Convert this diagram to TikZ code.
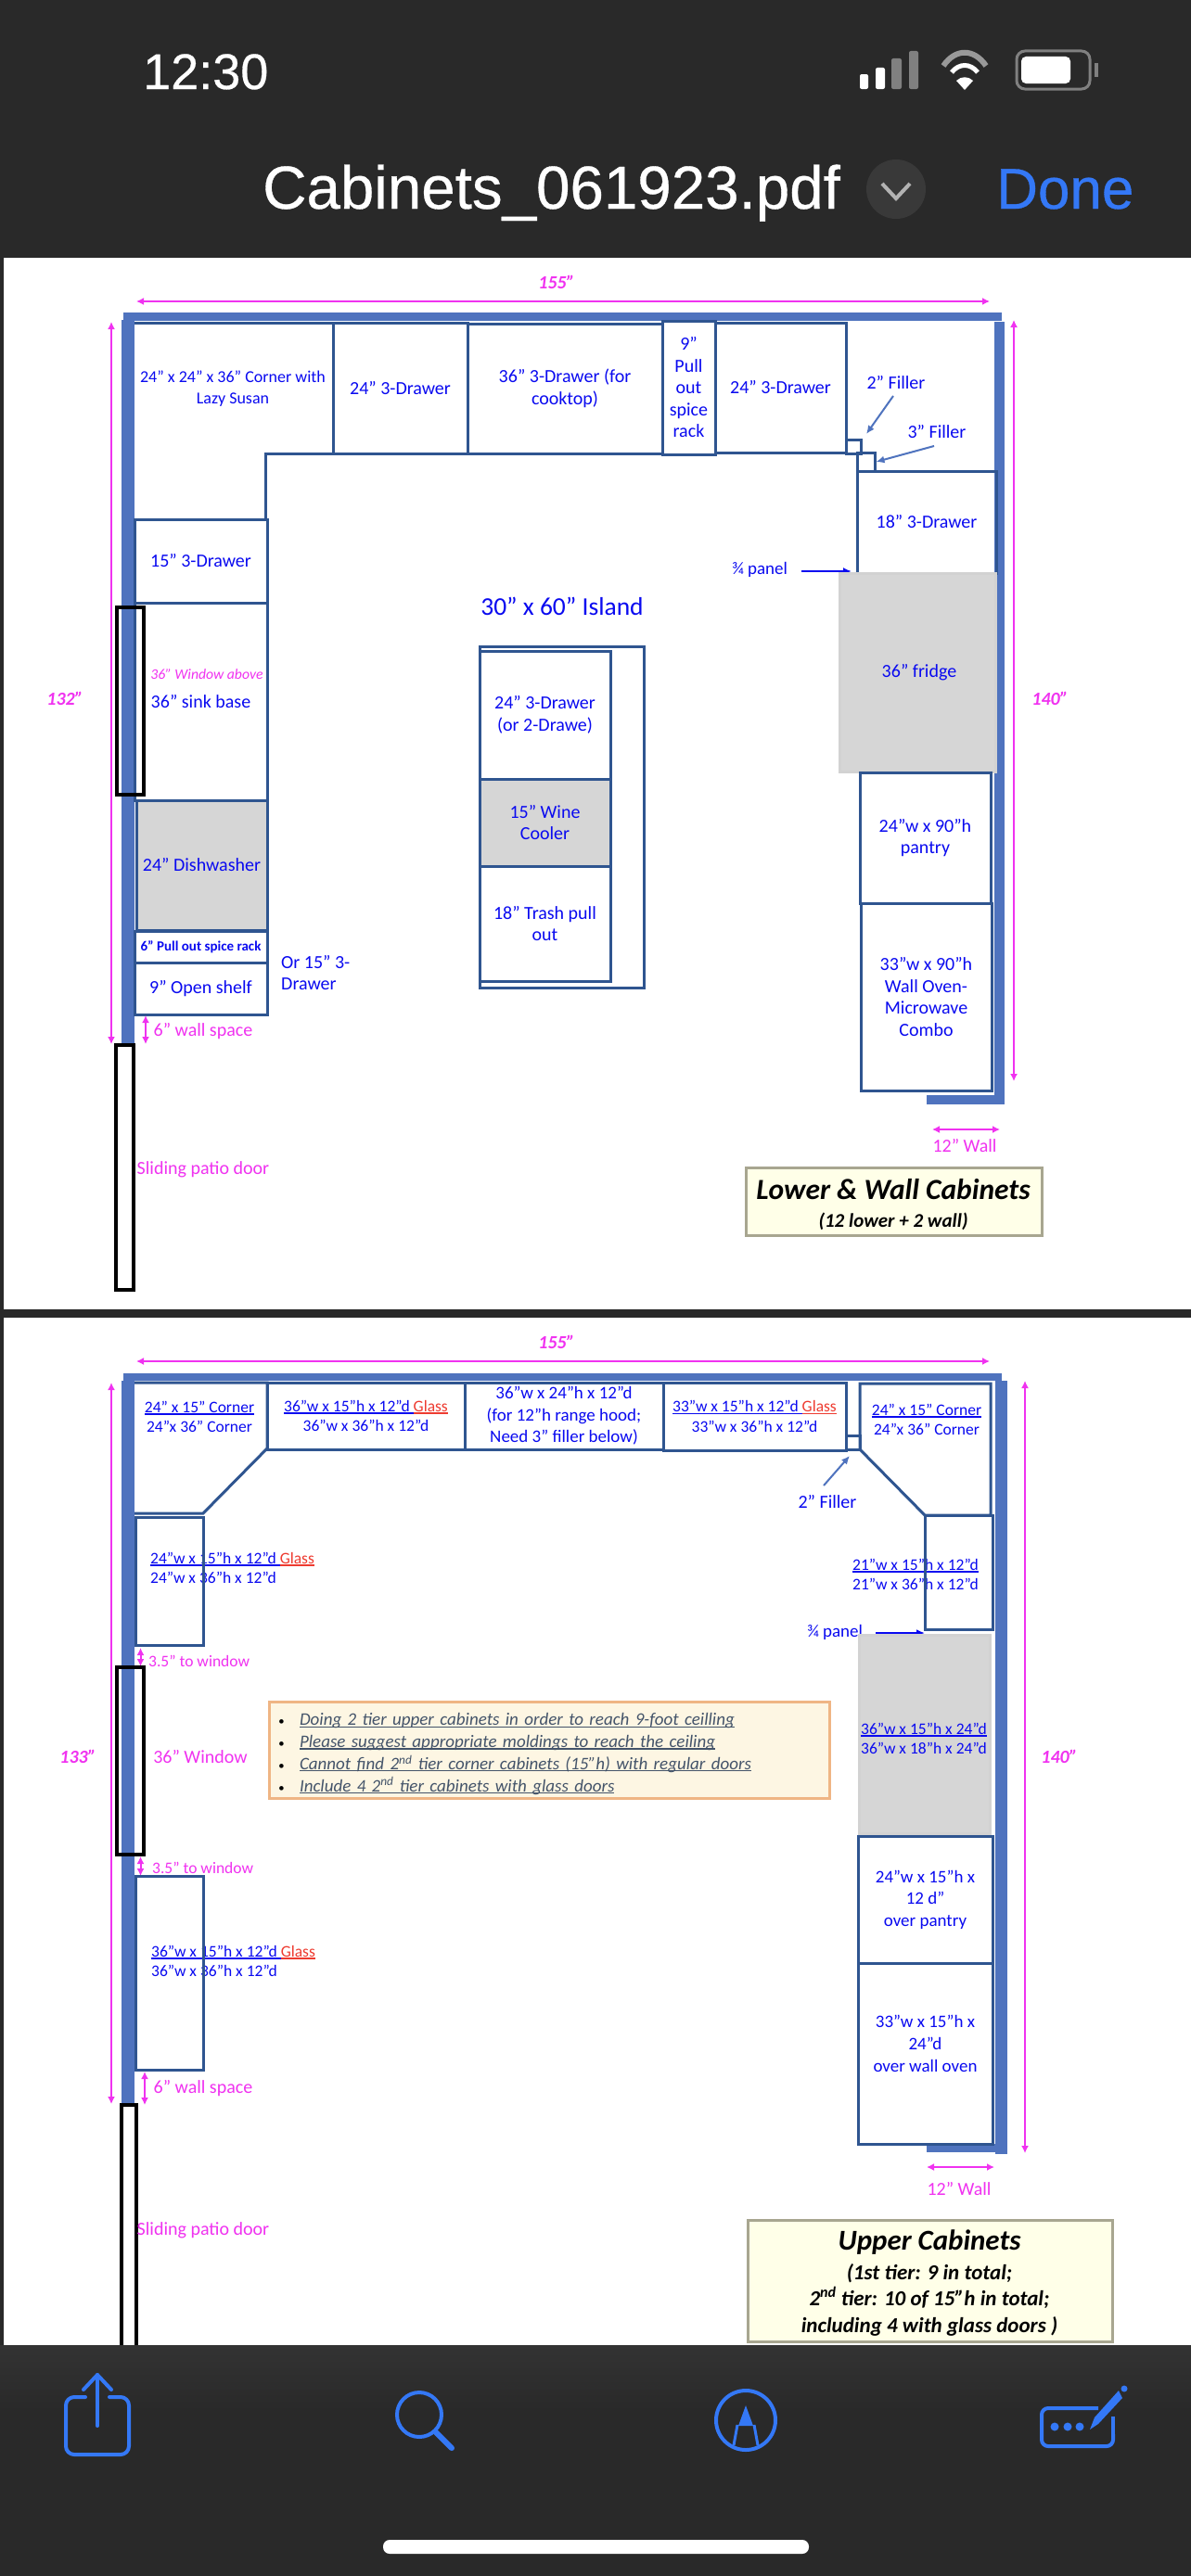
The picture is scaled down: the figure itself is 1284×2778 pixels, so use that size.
\documentclass[tikz,border=0pt]{standalone}
\usepackage{fontspec}
\usetikzlibrary{arrows.meta}
\setmainfont{Carlito}
\newfontfamily\iosfont[FakeBold=0.5]{Liberation Sans}
\definecolor{barbg}{HTML}{292929}
\definecolor{wallblue}{HTML}{4F73BE}
\definecolor{cabline}{HTML}{2F5590}
\definecolor{cabblue}{HTML}{0A0AF0}
\definecolor{pinky}{HTML}{F032F0}
\definecolor{fridgegray}{HTML}{D6D6D6}
\definecolor{iosblue}{HTML}{3478F6}
\definecolor{glassred}{HTML}{EE3B30}
\definecolor{noteink}{HTML}{44546A}
\definecolor{notefill}{HTML}{FDF6E3}
\definecolor{noteedge}{HTML}{EFB584}
\definecolor{legendfill}{HTML}{FFFFE8}
\definecolor{legendedge}{HTML}{A8A690}
\newcommand{\cabfont}{\fontsize{20}{23.5}\selectfont}
\newcommand{\upfont}{\fontsize{17.5}{21.5}\selectfont}
\newcommand{\ulined}[1]{\leavevmode\setbox0\hbox{#1}\rlap{\rule[-2.2pt]{\wd0}{1.3pt}}\box0\relax}
\newcommand{\glassword}{{\color{glassred}\ulined{Glass}}}
\newcommand{\notebullet}{\makebox[23pt][l]{\textcolor{black}{\fontsize{13}{13}\selectfont\textbullet}}}
\begin{document}
\begin{tikzpicture}[
        x=1pt, y=-1pt,
        cab/.style={draw=cabline, line width=3pt, inner sep=0pt, align=center, font=\cabfont, text=cabblue},
        graycab/.style={cab, fill=fridgegray},
        lab/.style={inner sep=0pt, align=center, font=\cabfont, text=cabblue},
        uplab/.style={lab, font=\upfont},
        pinklab/.style={lab, text=pinky},
        dimlab/.style={lab, text=pinky, font=\fontsize{20}{24}\selectfont\bfseries\itshape},
        wall/.style={fill=wallblue},
        dimarrow/.style={{Latex[length=8pt,width=8pt]}-{Latex[length=8pt,width=8pt]}, draw=pinky, line width=2.5pt},
        fillerarrow/.style={-{Latex[length=9pt,width=8pt]}, draw=wallblue, line width=2pt},
        panelarrow/.style={-{Latex[length=9pt,width=8pt]}, draw=cabblue, line width=2.5pt},
        windowbox/.style={draw=black, line width=3.5pt},
        doorbox/.style={draw=black, fill=white, line width=3.5pt},
        legend/.style={draw=legendedge, line width=3pt, fill=legendfill, inner sep=0pt},
        legendtext/.style={inner sep=0pt, align=center, text=black, font=\fontsize{23}{28.5}\selectfont\bfseries\itshape},
        iconline/.style={draw=iosblue, line width=4pt, line cap=round, line join=round}
    ]
        \useasboundingbox (0,0) rectangle (1284,2778);
        \fill[barbg] (0,0) rectangle (1284,2778);
        \fill[white] (4,278) rectangle (1284,1412);
        \fill[white] (4,1421) rectangle (1284,2535);

        % status and title bar
        \node[inner sep=0pt, anchor=base west, text=white, font=\iosfont\fontsize{54}{60}\selectfont] (clock) at (154,96) {12:30};
        \fill[white, rounded corners=2pt] (927,80) rectangle (936,96);
        \fill[white, rounded corners=2pt] (944,73) rectangle (954,96);
        \fill[gray, rounded corners=2pt] (961,63) rectangle (972,96);
        \fill[gray, rounded corners=2pt] (980,55) rectangle (990,96);
        \draw[gray!80, line width=6pt] (1017,71) .. controls (1030,52) and (1050,52) .. (1063,71);
        \draw[white, line width=5pt] (1026,78) .. controls (1034,68) and (1046,68) .. (1054,78);
        \fill[white] (1031,87) .. controls (1036,82) and (1044,82) .. (1049,87) -- (1040,97) -- cycle;
        \draw[gray, line width=3pt, rounded corners=9pt] (1096,55) rectangle (1175,96);
        \fill[white, rounded corners=5pt] (1101,61) rectangle (1154,90);
        \fill[gray] (1180,68) rectangle (1184,83);
        \node[inner sep=0pt, anchor=base west, text=white, font=\iosfont\fontsize{65.5}{70}\selectfont] (title) at (283,225) {Cabinets\_061923.pdf};
        \fill[gray!45!black] (966,204) circle (32);
        \draw[gray!60, line width=4pt] (951,198) -- (966,214) -- (981,198);
        \node[inner sep=0pt, anchor=base west, text=iosblue, font=\iosfont\fontsize{62}{66}\selectfont] (done) at (1074,225) {Done};

        % lower and wall cabinets
        \node[dimlab] (topdim) at (600,304) {155”};
        \coordinate (topdimL) at (147,325); \coordinate (topdimR) at (1067,325);
        \draw[dimarrow] (topdimL) -- (topdimR);
        \fill[wall] (133,337) rectangle (1080,346);
        \fill[wall] (131,345) rectangle (145,1126);
        \fill[wall] (1072,347) rectangle (1083,1190);
        \fill[wall] (999,1181) rectangle (1083,1191);
        \node[dimlab] (leftdim) at (70,753) {132”};
        \coordinate (leftdimT) at (120,347); \coordinate (leftdimB) at (120,1126);
        \draw[dimarrow] (leftdimT) -- (leftdimB);
        \node[dimlab] (rightdim) at (1132,753) {140”};
        \coordinate (rightdimT) at (1093,345); \coordinate (rightdimB) at (1093,1166);
        \draw[dimarrow] (rightdimT) -- (rightdimB);

        \draw[cabline, line width=3pt] (145,348) -- (359,348) -- (359,489) -- (286,489) -- (286,560) -- (145,560);
        \node[lab, font=\fontsize{18}{22.5}\selectfont] (lazy) at (251,419) {24” x 24” x 36” Corner with\\Lazy Susan};
        \node[cab, minimum width=145pt, minimum height=141pt] (drawerA) at (431.5,418.5) {24” 3-Drawer};
        \node[cab, minimum width=210pt, minimum height=140pt] (cooktop) at (609,419) {36” 3-Drawer (for\\cooktop)};
        \node[cab, minimum width=57pt, minimum height=144pt] (spiceA) at (742.5,418) {9”\\Pull\\out\\spice\\rack};
        \node[cab, minimum width=141pt, minimum height=140pt] (drawerB) at (841.5,418) {24” 3-Drawer};
        \node[cab, minimum width=16pt, minimum height=15pt] (fillerA) at (920,481.5) {};
        \node[cab, minimum width=19pt, minimum height=20pt] (fillerB) at (933.5,498) {};
        \node[cab, minimum width=150pt, minimum height=110pt] (drawerC) at (999,563) {18” 3-Drawer};
        \node[lab] (fillerAlab) at (966,413) {2” Filler};
        \node[lab] (fillerBlab) at (1010,466) {3” Filler};
        \coordinate (fillerAtip) at (934,468); \coordinate (fillerAtail) at (963,427);
        \coordinate (fillerBtail) at (1007,481);
        \draw[fillerarrow] (fillerAtail) -- (fillerAtip);
        \draw[fillerarrow] (fillerBtail) -- (fillerB.east);
        \node[lab, font=\fontsize{19}{23}\selectfont] (panelA) at (819,614) {¾ panel};
        \coordinate (panelAtail) at (864,616); \coordinate (panelAtip) at (918,616);
        \draw[panelarrow] (panelAtail) -- (panelAtip);
        \node[graycab, draw=gray!35, minimum width=168pt, minimum height=214pt] (fridge) at (989,725) {\hspace{4pt}36” fridge};
        \node[cab, minimum width=141pt, minimum height=141pt] (pantry) at (997.5,903.5) {24”w x 90”h\\pantry};
        \node[cab, minimum width=141pt, minimum height=202pt] (combo) at (998.5,1075) {33”w x 90”h\\Wall Oven-\\Microwave\\Combo};

        \node[cab, minimum width=143pt, minimum height=90pt] (drawerD) at (216.5,605) {15” 3-Drawer};
        \node[cab, minimum width=143pt, minimum height=213pt] (sink) at (216.5,756.5) {36” sink base};
        \node[lab, text=pinky, font=\fontsize{15.7}{19}\selectfont\itshape] (windowabove) at (223,727) {36” Window above};
        \node[graycab, minimum width=141pt, minimum height=140pt] (dishwasher) at (217.5,933) {24” Dishwasher};
        \node[cab, minimum width=143pt, minimum height=34pt, font=\fontsize{15}{19}\selectfont\bfseries] (spiceB) at (216.5,1021) {6” Pull out spice rack};
        \node[cab, minimum width=143pt, minimum height=56pt] (shelf) at (216.5,1066) {9” Open shelf};
        \node[lab, align=left, anchor=north west] (orlab) at (303,1030) {Or 15” 3-\\Drawer};
        \draw[windowbox] (126,655) rectangle (155,857);
        \coordinate (gapAtop) at (157,1095); \coordinate (gapAbot) at (157,1126);
        \draw[dimarrow, line width=2pt] (gapAtop) -- (gapAbot);
        \node[pinklab] (gapAlab) at (219,1112) {6” wall space};
        \draw[doorbox] (125,1127) rectangle (144,1391);
        \node[pinklab] (doorA) at (219,1261) {Sliding patio door};

        \node[lab, font=\fontsize{27.5}{32}\selectfont] (islandlab) at (606,654) {30” x 60” Island};
        \node[cab, minimum width=177pt, minimum height=368pt] (island) at (605.5,881) {};
        \node[cab, fill=white, minimum width=141pt, minimum height=138pt] (drawerE) at (587.5,771) {24” 3-Drawer\\(or 2-Drawe)};
        \node[graycab, minimum width=141pt, minimum height=94pt] (wine) at (587.5,887) {15” Wine\\Cooler};
        \node[cab, fill=white, minimum width=141pt, minimum height=124pt] (trash) at (587.5,996) {18” Trash pull\\out};

        \coordinate (wallAL) at (1005,1218); \coordinate (wallAR) at (1078,1218);
        \draw[dimarrow] (wallAL) -- (wallAR);
        \node[pinklab] (wallAlab) at (1040,1236) {12” Wall};
        \node[legend, minimum width=319pt, minimum height=73pt] (legendA) at (963.5,1295.5) {};
        \node[legendtext, font=\fontsize{31.5}{34}\selectfont\bfseries\itshape] (legendAtitle) at (963,1283) {Lower \& Wall Cabinets};
        \node[legendtext, font=\fontsize{21}{26}\selectfont\bfseries\itshape] (legendAsub) at (963,1317) {(12 lower + 2 wall)};

        % upper cabinets
        \node[dimlab] (topdimU) at (600,1447.5) {155”};
        \coordinate (topdimUL) at (147,1468); \coordinate (topdimUR) at (1067,1468);
        \draw[dimarrow] (topdimUL) -- (topdimUR);
        \fill[wall] (133,1481) rectangle (1080,1489);
        \fill[wall] (131,1489) rectangle (145,2270);
        \fill[wall] (1073,1489) rectangle (1086,2323);
        \fill[wall] (999,2312) rectangle (1073,2321);
        \node[dimlab] (leftdimU) at (84,1894) {133”};
        \coordinate (leftdimUT) at (120,1491); \coordinate (leftdimUB) at (120,2269);
        \draw[dimarrow] (leftdimUT) -- (leftdimUB);
        \node[dimlab] (rightdimU) at (1142,1894) {140”};
        \coordinate (rightdimUT) at (1105,1489); \coordinate (rightdimUB) at (1105,2322);
        \draw[dimarrow] (rightdimUT) -- (rightdimUB);

        \node[uplab] (cornerAlab) at (215,1528) {\ulined{24” x 15” Corner}\\24”x 36” Corner};
        \draw[cabline, line width=3pt] (145,1491) -- (288,1491) -- (288,1562) -- (219,1632) -- (145,1632);
        \node[cab, font=\upfont, minimum width=213pt, minimum height=72pt] (upperA) at (394.5,1527) {\ulined{36”w x 15”h x 12”d }\glassword\\36”w x 36”h x 12”d};
        \node[cab, font=\fontsize{19}{23.5}\selectfont, minimum width=214pt, minimum height=72pt] (hood) at (608,1527) {36”w x 24”h x 12”d\\(for 12”h range hood;\\Need 3” filler below)};
        \node[cab, font=\upfont, minimum width=197pt, minimum height=73pt] (upperB) at (813.5,1527.5) {\ulined{33”w x 15”h x 12”d }\glassword\\33”w x 36”h x 12”d};
        \node[cab, minimum width=15pt, minimum height=15pt] (fillerU) at (919.5,1555.5) {};
        \node[uplab] (cornerBlab) at (999,1531) {\ulined{24” x 15” Corner}\\24”x 36” Corner};
        \draw[cabline, line width=3pt] (927,1563) -- (927,1492) -- (1068,1492) -- (1068,1634) -- (997,1634) -- cycle;
        \node[uplab] (upperClab) at (987,1698) {\ulined{21”w x 15”h x 12”d}\\21”w x 36”h x 12”d};
        \node[cab, minimum width=73pt, minimum height=123pt] (upperC) at (1033.5,1695.5) {};
        \node[lab] (fillerUlab) at (892,1619) {2” Filler};
        \coordinate (fillerUtail) at (888,1602); \coordinate (fillerUtip) at (916,1570);
        \draw[fillerarrow] (fillerUtail) -- (fillerUtip);
        \node[lab, font=\fontsize{19}{23}\selectfont] (panelU) at (900,1760) {¾ panel};
        \coordinate (panelUtail) at (944,1761); \coordinate (panelUtip) at (997,1761);
        \draw[panelarrow] (panelUtail) -- (panelUtip);
        \node[graycab, draw=gray!35, minimum width=141pt, minimum height=214pt] (fridgeU) at (996.5,1870) {};
        \node[uplab] (fridgeUlab) at (996,1875) {\ulined{36”w x 15”h x 24”d}\\36”w x 18”h x 24”d};
        \node[cab, minimum width=145pt, minimum height=137pt, font=\fontsize{19}{23.5}\selectfont] (overpantry) at (997.5,2048.5) {24”w x 15”h x\\12 d”\\over pantry};
        \node[cab, minimum width=145pt, minimum height=195pt] (overoven) at (997.5,2214.5) {};
        \node[lab, font=\fontsize{19}{24}\selectfont] (overovenlab) at (997.5,2204) {33”w x 15”h x\\24”d\\over wall oven};
        \coordinate (wallUL) at (999,2337); \coordinate (wallUR) at (1072,2337);
        \draw[dimarrow] (wallUL) -- (wallUR);
        \node[pinklab] (wallUlab) at (1034,2360) {12” Wall};

        \node[uplab, align=left, anchor=west] (upperDlab) at (162,1691) {\ulined{24”w x 15”h x 12”d }\glassword\\24”w x 36”h x 12”d};
        \node[cab, minimum width=73pt, minimum height=138pt] (upperD) at (182.5,1705) {};
        \coordinate (gapBtop) at (151.5,1777); \coordinate (gapBbot) at (151.5,1797);
        \draw[dimarrow, line width=2pt] (gapBtop) -- (gapBbot);
        \node[pinklab, anchor=west, font=\upfont] (gapBlab) at (160,1791) {3.5” to window};
        \draw[windowbox] (126,1798) rectangle (155,2000);
        \node[pinklab] (windowlab) at (216,1894) {36” Window};
        \node[inner sep=0pt, draw=noteedge, fill=notefill, line width=3pt, minimum height=104pt, text width=584pt, inner xsep=10pt, align=left, text=noteink, font=\fontsize{19}{23.8}\selectfont\itshape] (notes) at (592,1887) {%
            \rule{0pt}{22pt}\notebullet\ulined{Doing 2 tier upper cabinets in order to reach 9-foot ceilling}\\
            \notebullet\ulined{Please suggest appropriate moldings to reach the ceiling}\\
            \notebullet\ulined{Cannot find 2\textsuperscript{nd} tier corner cabinets (15”h) with regular doors}\\
            \notebullet\ulined{Include 4 2\textsuperscript{nd} tier cabinets with glass doors}};
        \coordinate (gapCtop) at (151.5,2002); \coordinate (gapCbot) at (151.5,2023);
        \draw[dimarrow, line width=2pt] (gapCtop) -- (gapCbot);
        \node[pinklab, anchor=west, font=\upfont] (gapClab) at (164,2014) {3.5” to window};
        \node[uplab, align=left, anchor=west] (upperElab) at (163,2115) {\ulined{36”w x 15”h x 12”d }\glassword\\36”w x 36”h x 12”d};
        \node[cab, minimum width=73pt, minimum height=209pt] (upperE) at (182.5,2127.5) {};
        \coordinate (gapDtop) at (156,2234); \coordinate (gapDbot) at (156,2270);
        \draw[dimarrow, line width=2pt] (gapDtop) -- (gapDbot);
        \node[pinklab] (gapDlab) at (219,2252) {6” wall space};
        \draw[doorbox] (131,2270) rectangle (147,2560);
        \node[pinklab] (doorU) at (219,2405) {Sliding patio door};
        \node[legend, minimum width=393pt, minimum height=131pt] (legendU) at (1002.5,2459.5) {};
        \node[legendtext, font=\fontsize{31}{34}\selectfont\bfseries\itshape] (legendUtitle) at (1002,2418) {Upper Cabinets};
        \node[legendtext] (legendUsub) at (1002,2480) {(1st tier: 9 in total;\\2\textsuperscript{nd} tier: 10 of 15”h in total;\\including 4 with glass doors )};

        % bottom toolbar
        \shade[top color=black!80, bottom color=barbg] (0,2529) rectangle (1284,2600);
        \fill[barbg] (0,2600) rectangle (1284,2778);
        \draw[iconline, rounded corners=9pt] (92,2585) -- (71,2585) -- (71,2647) -- (139,2647) -- (139,2585) -- (118,2585);
        \draw[iconline] (105,2616) -- (105,2561);
        \draw[iconline] (90,2577) -- (105,2561) -- (120,2577);
        \draw[iconline] (452,2604) circle (24);
        \draw[iconline, line width=6pt] (470,2623) -- (487,2640);
        \draw[iconline] (804,2610) circle (32);
        \fill[iosblue] (804,2594) -- (796,2616) -- (812,2616) -- cycle;
        \draw[iosblue, line width=3pt] (795,2615) -- (791,2637);
        \draw[iosblue, line width=3pt] (813,2615) -- (817,2637);
        \draw[iosblue, line width=4pt, rounded corners=7pt] (1184,2597) -- (1123,2597) -- (1123,2638) -- (1200,2638) -- (1200,2625);
        \draw[iosblue, line width=4pt] (1200,2625) -- (1200,2606);
        \foreach \dotx in {1137,1151,1164}
            \fill[iosblue] (\dotx,2617) circle (4.5);
        \fill[iosblue] (1175,2620) -- (1180,2607) -- (1206,2578) -- (1210,2586) -- (1184,2614) -- cycle;
        \fill[iosblue] (1212,2576) circle (3.5);
        \fill[white, rounded corners=7pt] (413,2739) rectangle (872,2754);
    \end{tikzpicture}
\end{document}
